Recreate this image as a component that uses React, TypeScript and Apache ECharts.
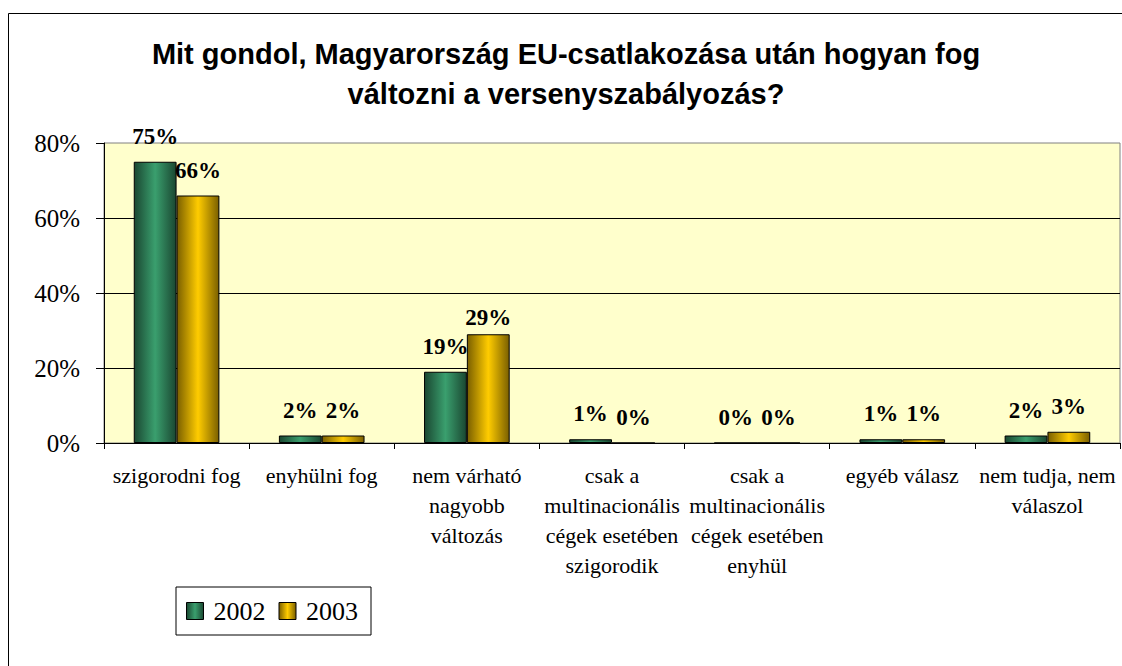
import React, { useEffect, useRef } from "react";
import * as echarts from "echarts";

const titleLines = [
  "Mit gondol, Magyarország EU-csatlakozása után hogyan fog",
  "változni a versenyszabályozás?",
];
const categories = [
  "szigorodni fog",
  "enyhülni fog",
  "nem várható\nnagyobb\nváltozás",
  "csak a\nmultinacionális\ncégek esetében\nszigorodik",
  "csak a\nmultinacionális\ncégek esetében\nenyhül",
  "egyéb válasz",
  "nem tudja, nem\nválaszol",
];
const seriesNames = ["2002", "2003"];
const values2002 = [75, 2, 19, 1, 0, 1, 2];
const values2003 = [66, 2, 29, 0, 0, 1, 3];
const yMin = 0;
const yMax = 80;
const yInterval = 20;

// label distance tweaks (style only), keyed by category index
const labelDistance2002: Record<number, number> = {};
const labelDistance2003: Record<number, number> = { 2: 5 };

const SERIF = '"Liberation Serif", "Times New Roman", serif';
const SANS = '"Liberation Sans", Arial, sans-serif';

export default function App() {
  const ref = useRef<HTMLDivElement>(null);
  useEffect(() => {
    if (!ref.current) return;
    const chart = echarts.init(ref.current, null, { renderer: "svg" });
    const green = new echarts.graphic.LinearGradient(0, 0, 1, 0, [
      { offset: 0, color: "#1a4731" },
      { offset: 0.5, color: "#3a9f6e" },
      { offset: 1, color: "#1a4731" },
    ]);
    const gold = new echarts.graphic.LinearGradient(0, 0, 1, 0, [
      { offset: 0, color: "#7a5f00" },
      { offset: 0.5, color: "#ffcc00" },
      { offset: 1, color: "#7a5f00" },
    ]);
    const label = {
      show: true,
      position: "top" as const,
      distance: 14,
      formatter: "{c}%",
      fontFamily: SERIF,
      fontWeight: "bold" as const,
      fontSize: 23,
      color: "#000",
    };
    const build = (vals: number[], tweaks: Record<number, number>) =>
      vals.map((v, i) =>
        tweaks[i] !== undefined
          ? { value: v, label: { distance: tweaks[i] } }
          : v
      );
    chart.setOption({
      animation: false,
      backgroundColor: "#fff",
      graphic: [
        {
          type: "rect",
          shape: { x: 8.5, y: 13.5, width: 1300, height: 800 },
          style: { fill: "none", stroke: "#000", lineWidth: 1 },
          z: -1,
        },
        {
          type: "text",
          x: 566,
          y: 34,
          style: {
            text: titleLines.join("\n"),
            fontFamily: SANS,
            fontWeight: "bold",
            fontSize: 29,
            lineHeight: 40,
            align: "center",
            verticalAlign: "top",
            fill: "#000",
          },
        },
      ],
      legend: {
        data: seriesNames.map((n) => ({
          name: n,
          itemStyle: { borderColor: "#000", borderWidth: 1 },
        })),
        left: 176,
        top: 587,
        orient: "horizontal",
        icon: "rect",
        itemWidth: 17,
        itemHeight: 17,
        itemGap: 13,
        padding: [11, 13, 11, 10],
        borderColor: "#000",
        borderWidth: 1,
        backgroundColor: "#fff",
        textStyle: {
          fontFamily: SERIF,
          fontSize: 26,
          color: "#000",
          padding: [0, 0, 0, 5],
        },
      },
      grid: {
        left: 104,
        right: 2,
        top: 143,
        bottom: 223,
        show: true,
        backgroundColor: "#ffffcc",
        borderColor: "#808080",
        borderWidth: 1,
        containLabel: false,
      },
      xAxis: {
        type: "category",
        data: categories,
        axisLine: { lineStyle: { color: "#000", width: 1 } },
        axisTick: { show: true, length: 6, lineStyle: { color: "#000" } },
        axisLabel: {
          interval: 0,
          margin: 17,
          fontFamily: SERIF,
          fontSize: 22,
          lineHeight: 30,
          color: "#000",
        },
      },
      yAxis: {
        type: "value",
        min: yMin,
        max: yMax,
        interval: yInterval,
        axisLine: { show: true, lineStyle: { color: "#000", width: 1 } },
        axisTick: { show: true, length: 8, lineStyle: { color: "#000" } },
        axisLabel: {
          formatter: "{value}%",
          margin: 24,
          fontFamily: SERIF,
          fontSize: 25,
          color: "#000",
        },
        splitLine: {
          show: true,
          showMinLine: false,
          showMaxLine: false,
          lineStyle: { color: "#000", width: 1 },
        },
      },
      series: [
        {
          name: seriesNames[0],
          type: "bar",
          data: build(values2002, labelDistance2002),
          barGap: "0%",
          barCategoryGap: "41%",
          itemStyle: { color: green, borderColor: "#000", borderWidth: 1 },
          label,
        },
        {
          name: seriesNames[1],
          type: "bar",
          data: build(values2003, labelDistance2003),
          barGap: "0%",
          barCategoryGap: "41%",
          itemStyle: { color: gold, borderColor: "#000", borderWidth: 1 },
          label,
        },
      ],
    });
    return () => chart.dispose();
  }, []);
  return (
    <div
      ref={ref}
      style={{ position: "absolute", left: 0, top: 0, width: 1122, height: 666 }}
    />
  );
}
